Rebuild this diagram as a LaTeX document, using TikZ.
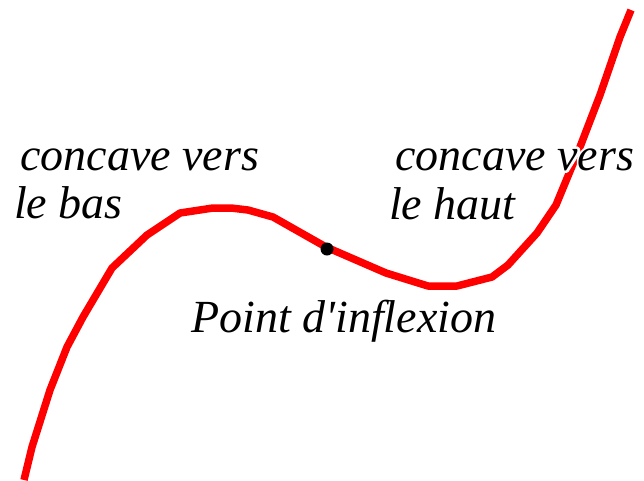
\documentclass[tikz,border=0pt]{standalone}
\usepackage{fontspec}
\setmainfont{Liberation Serif}
\newcommand{\haloed}[1]{\leavevmode\rlap{\special{pdf:literal 1 Tr 5 w 1 1 1 RG 1 j}#1\special{pdf:literal 0 Tr}}#1}
\tikzset{
  lbl/.style={anchor=base west, inner sep=0pt, font=\fontsize{46}{52}\selectfont\itshape, text=black},
  curve/.style={draw=red, line width=7.5pt, line join=round},
}
\begin{document}
\begin{tikzpicture}[x=1pt, y=-1pt]
\useasboundingbox (0,0) rectangle (644,480);
\draw[curve] (24,480) -- (32,447) -- (50,390) -- (67,347) -- (83,317) -- (112,268)
  -- (147,235) -- (180,213) -- (213,208) -- (231,208) -- (248,210) -- (273,217)
  -- (326,247) -- (386,273) -- (428,286) -- (457,286) -- (492,277) -- (508,265)
  -- (537,233) -- (556,205) -- (580,147) -- (600,95) -- (620,37) -- (631,10);
\fill[black] (327,249) circle (6.5pt) coordinate (ip);
\node[lbl] (cb1) at (20,170) {concave vers};
\node[lbl] (cb2) at (14,218) {le bas};
\node[lbl] (ch1) at (395,170) {\haloed{concave vers}};
\node[lbl] (ch2) at (389,219) {le haut};
\node[lbl] (pi) at (191,332) {Point d\textquotesingle inflexion};
\end{tikzpicture}
\end{document}
